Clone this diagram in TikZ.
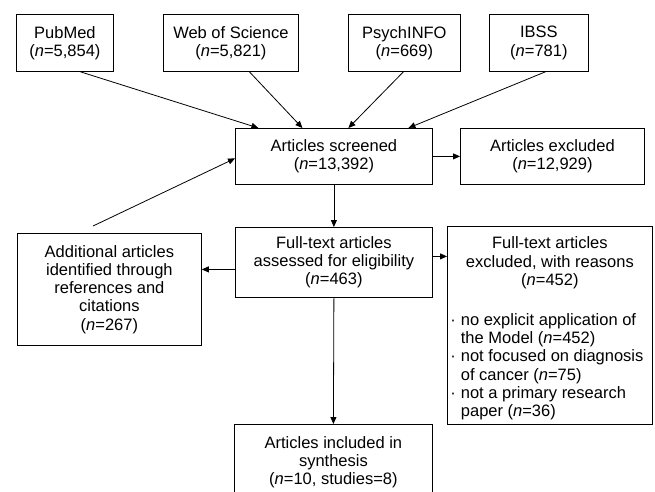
\documentclass[tikz,border=0pt]{standalone}
\usepackage{fontspec}
\setmainfont{Liberation Sans}
\usetikzlibrary{arrows.meta}
\begin{document}
\begin{tikzpicture}[x=1pt,y=-1pt,
  box/.style={draw, line width=0.8pt, inner sep=0pt, align=center, anchor=north west,
    font=\fontsize{16.5}{18.3}\selectfont},
  arr/.style={line width=0.8pt, -{Triangle[length=7pt,width=6pt]}}]
\clip (0,0) rectangle (655,491);
\fill[white] (0,0) rectangle (655,491);
% top row
\node[box, minimum width=97pt, minimum height=57pt] (pub) at (16,14) {PubMed\\(\textit{n}=5,854)};
\node[box, minimum width=135pt, minimum height=57pt] (wos) at (163,14) {Web of Science\\(\textit{n}=5,821)};
\node[box, minimum width=112pt, minimum height=57pt] (psy) at (348,14) {PsychINFO\\(\textit{n}=669)};
\node[box, minimum width=99pt, minimum height=57pt] (ibss) at (489,14) {IBSS\\(\textit{n}=781)};
% screened row
\node[box, minimum width=197pt, minimum height=56pt] (scr) at (235,128) {Articles screened\\(\textit{n}=13,392)};
\node[box, minimum width=184pt, minimum height=56pt] (exc) at (460,128) {Articles excluded\\(\textit{n}=12,929)};
% full text row
\node[box, minimum width=197pt, minimum height=70pt] (ft) at (235,227) {Full-text articles\\assessed for eligibility\\(\textit{n}=463)};
\node[box, minimum width=184pt, minimum height=112pt] (add) at (17,233) {Additional articles\\identified through\\references and\\citations\\(\textit{n}=267)};
\node[box, minimum width=205pt, minimum height=198pt] (ftex) at (447,226) {\parbox[c][198pt][t]{205pt}{\vspace*{10.5pt}%
{\centering Full-text articles\\excluded, with reasons\\(\textit{n}=452)\par}
\vspace{21.5pt}
{\raggedright\noindent\hspace*{3pt}\begin{tabular}[t]{@{}l@{\hspace{5pt}}l@{}}
\textperiodcentered & no explicit application of\\
 & the Model (\textit{n}=452)\\
\textperiodcentered & not focused on diagnosis\\
 & of cancer (\textit{n}=75)\\
\textperiodcentered & not a primary research\\
 & paper (\textit{n}=36)
\end{tabular}\par}}};
% included
\node[box, minimum width=198pt, minimum height=76pt] (inc) at (234,424) {Articles included in\\synthesis\\(\textit{n}=10, studies=8)};
% connectors
\draw[arr] ([xshift=15.5pt]pub.south) -- ([xshift=-75.5pt]scr.north);
\draw[arr] ([xshift=18.5pt]wos.south) -- ([xshift=-31.5pt]scr.north);
\draw[arr] ([xshift=-1pt]psy.south) -- ([xshift=14.5pt]scr.north);
\draw[arr] ([xshift=6.5pt]ibss.south) -- ([xshift=74.5pt]scr.north);
\coordinate (addtop) at (93,226);
\draw[arr] (addtop) -- ([yshift=-2pt]scr.west);
\draw[arr] (scr.east) -- (exc.west);
\draw[arr] (scr.south) -- (ft.north);
\draw[arr] ([yshift=-7pt]ft.west) -- ([yshift=-7pt]ft.west -| add.east);
\draw[arr] ([yshift=6pt]ft.east) -- ([yshift=6pt]ft.east -| ftex.west);
\draw[arr] (ft.south) -- (inc.north);
\end{tikzpicture}
\end{document}
